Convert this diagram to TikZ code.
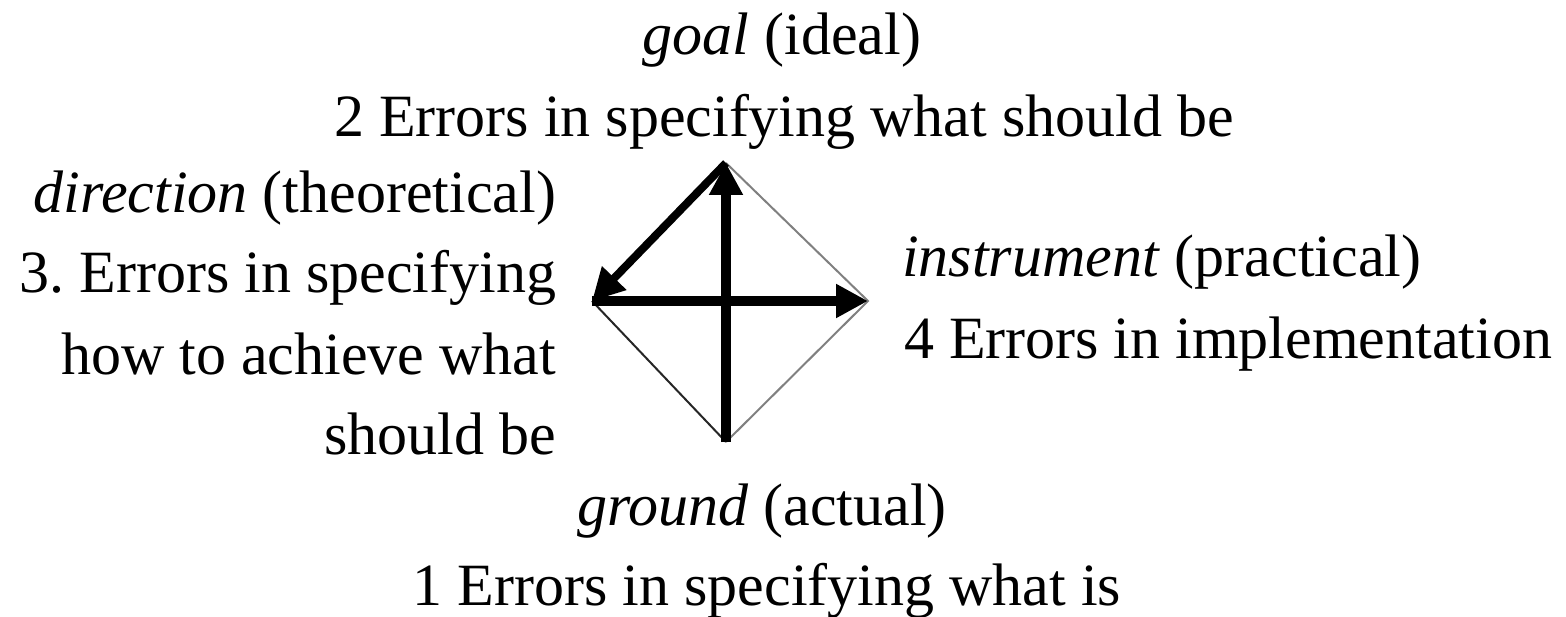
\documentclass[tikz,border=0pt]{standalone}
\usepackage{fontspec}
\setmainfont{Liberation Serif}
\usetikzlibrary{arrows.meta}
\begin{document}
\begin{tikzpicture}[x=1pt,y=-1pt,
  lbl/.style={inner sep=0pt, outer sep=0pt, font=\fontsize{60}{72}\selectfont},
  thickarrow/.style={line width=10pt, -{Triangle[length=32pt,width=32pt]}},
  thinedge/.style={line width=2pt}]
\useasboundingbox (0,0) rectangle (1566,617);
\coordinate (top) at (726,163);
\coordinate (left) at (592,301);
\coordinate (right) at (868,301);
\coordinate (bottom) at (726,442);
\draw[thinedge, black!50] (top) -- (right) -- (bottom);
\draw[thinedge, black!85] (bottom) -- (left);
\draw[thickarrow] (bottom) -- (top);
\draw[thickarrow, line width=8pt] (top) -- (left);
\draw[thickarrow] (left) -- (right);
\node[lbl, anchor=base] (goal) at (782,55) {\textit{goal} (ideal)};
\node[lbl, anchor=base] (goalerr) at (784,137) {2 Errors in specifying what should be};
\node[lbl, anchor=base east] (dir) at (556,213) {\textit{direction} (theoretical)};
\node[lbl, anchor=base east] (dir1) at (556,293) {3.\ Errors in specifying};
\node[lbl, anchor=base east] (dir2) at (556,374) {how to achieve what};
\node[lbl, anchor=base east] (dir3) at (556,454) {should be};
\node[lbl, anchor=base west] (ins) at (902,277) {\textit{instrument} (practical)};
\node[lbl, anchor=base west] (inserr) at (904,359) {4 Errors in implementation};
\node[lbl, anchor=base] (gr) at (762,525) {\textit{ground} (actual)};
\node[lbl, anchor=base] (grerr) at (767,605) {1 Errors in specifying what is};
\end{tikzpicture}
\end{document}
